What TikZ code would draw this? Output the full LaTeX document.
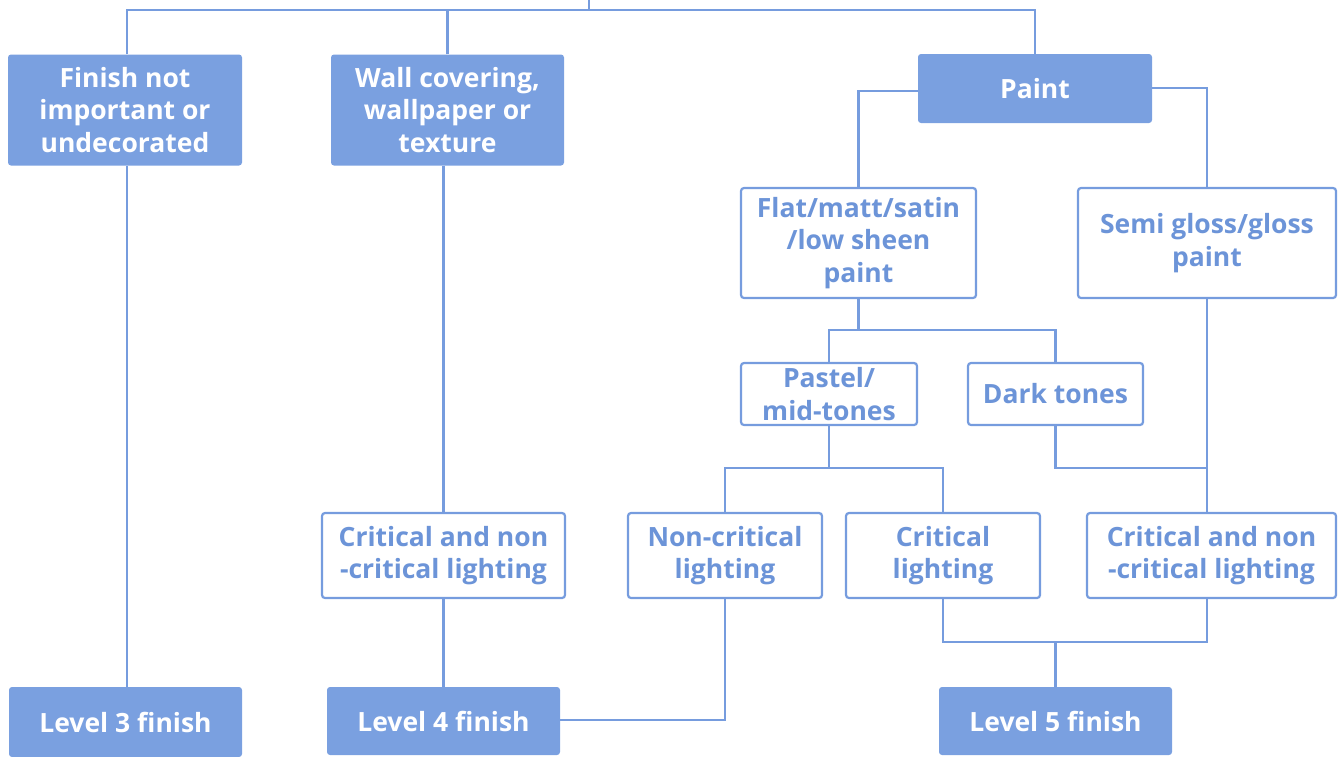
\documentclass[tikz,border=0pt]{standalone}
\usepackage{fontspec}
\setmainfont{Open Sans}
\definecolor{bfill}{RGB}{122,160,224}
\definecolor{bline}{RGB}{118,156,222}
\definecolor{btext}{RGB}{108,148,216}
\begin{document}
\begin{tikzpicture}[x=1pt,y=-1pt,
  base/.style={rounded corners=3pt,align=center,font=\fontsize{26.5}{32.5}\selectfont\bfseries,inner sep=0pt},
  filled/.style={base,fill=bfill,text=white},
  outl/.style={base,draw=bline,line width=2.2pt,text=btext,fill=white},
  conn/.style={draw=bline,line width=2.2pt}]
\useasboundingbox (0,0) rectangle (1340,756);
% nodes
\node[filled,minimum width=234pt,minimum height=111pt] (A) at (125,110) {Finish not\\important or\\undecorated};
\node[filled,minimum width=233pt,minimum height=111pt] (B) at (447.5,110) {Wall covering,\\wallpaper or\\texture};
\node[filled,minimum width=234pt,minimum height=69pt] (C) at (1035,88.5) {Paint};
\node[outl,minimum width=235pt,minimum height=110pt] (D) at (858.5,243) {Flat/matt/satin\\/low sheen\\paint};
\node[outl,minimum width=258pt,minimum height=110pt] (E) at (1207,243) {Semi gloss/gloss\\paint};
\node[outl,minimum width=176pt,minimum height=62pt] (F) at (829,394) {Pastel/\\mid-tones};
\node[outl,minimum width=175pt,minimum height=62pt] (G) at (1055.5,394) {Dark tones};
\node[outl,minimum width=243pt,minimum height=85pt] (H) at (443.5,555.5) {Critical and non\\-critical lighting};
\node[outl,minimum width=194pt,minimum height=85pt] (I) at (725,555.5) {Non-critical\\lighting};
\node[outl,minimum width=194pt,minimum height=85pt] (J) at (943,555.5) {Critical\\lighting};
\node[outl,minimum width=249pt,minimum height=85pt] (K) at (1211.5,555.5) {Critical and non\\-critical lighting};
\node[filled,minimum width=233pt,minimum height=70pt] (L) at (125.5,722) {Level 3 finish};
\node[filled,minimum width=233pt,minimum height=68pt] (M) at (443.5,721) {Level 4 finish};
\node[filled,minimum width=233pt,minimum height=68pt] (N) at (1055.5,721) {Level 5 finish};
\coordinate (top) at (589,-2);
% connectors
\draw[conn] (top) -- (589,10);
\draw[conn] (A.north -| 127,0) |- (589,10) -| (C.north);
\draw[conn] (B.north) -- (447.5,10);
\draw[conn] (A.south -| 127,0) -- (L.north -| 127,0);
\draw[conn] (B.south -| 443.5,0) -- (H.north);
\draw[conn] (H.south) -- (M.north);
\draw[conn] (C.west |- 0,91) -| (D.north);
\draw[conn] (C.east |- 0,88) -| (E.north);
\draw[conn] (D.north |- D.south) -- (858.5,330) -| (F.north);
\draw[conn] (858.5,330) -| (G.north);
\draw[conn] (F.south) -- (829,468) -| (I.north);
\draw[conn] (829,468) -| (J.north);
\draw[conn] (G.south) |- (1207,468);
\draw[conn] (E.south) -- (K.north -| E.south);
\draw[conn] (I.south) |- (M.east |- 0,720);
\draw[conn] (J.south) |- (1207,642) -- (K.south -| 1207,0);
\draw[conn] (1055.5,642) -- (N.north);
\end{tikzpicture}
\end{document}
